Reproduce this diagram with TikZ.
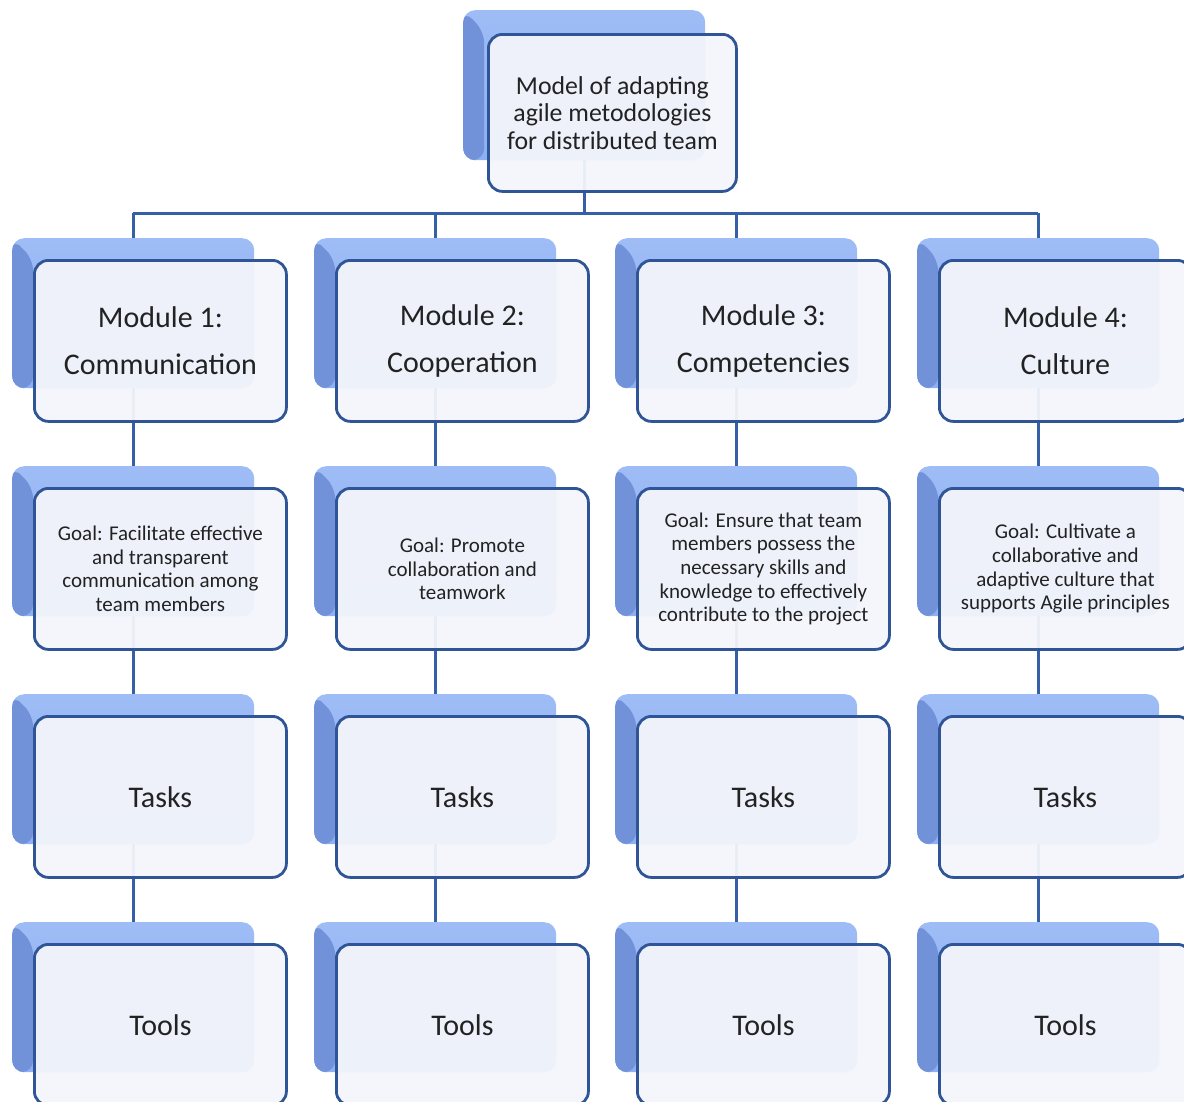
\documentclass[tikz,border=0pt]{standalone}
\usepackage{fontspec}
\setmainfont{Carlito}
\usetikzlibrary{calc}
\pgfdeclarelayer{bg}
\pgfsetlayers{bg,main}

\definecolor{linkblue}{HTML}{3560A8}
\definecolor{edgeblue}{HTML}{2F5597}
\definecolor{facefill}{HTML}{F3F5FB}
\definecolor{backlight}{HTML}{8DB0F3}
\definecolor{backdark}{HTML}{7191D9}
\definecolor{inktext}{HTML}{222222}

\tikzset{
  backbox/.style={draw=none, rounded corners=12pt, anchor=north west,
    minimum width=242pt, minimum height=150pt, inner sep=0pt,
    top color=backlight!85!white, bottom color=backlight,
    path picture={
      \fill[backdark]
        (path picture bounding box.north west)
        -- ([xshift=21pt,yshift=-21pt]path picture bounding box.north west)
        -- ([xshift=21pt]path picture bounding box.south west)
        -- (path picture bounding box.south west) -- cycle;
    }},
  frontbox/.style={draw=edgeblue, line width=2.8pt, fill=facefill,
    fill opacity=0.95, text opacity=1, rounded corners=14pt,
    anchor=north west, minimum width=252pt, minimum height=161pt,
    inner sep=0pt, align=center, text=inktext},
  bigtext/.style={font=\fontsize{30}{47}\selectfont},
  goaltext/.style={font=\fontsize{21}{23.6}\selectfont},
  toptext/.style={font=\fontsize{25.8}{27.5}\selectfont},
  link/.style={draw=linkblue, line width=3pt},
}

% one box of the chart: back slab plus the framed front card
\newcommand\chartcard[5]{%
  \node[backbox] (#1-b) at (#2-21,#3-21) {};
  \node[frontbox,#4] (#1) at (#2,#3) {#5};
}

\begin{document}
\begin{tikzpicture}[x=1pt,y=-1pt]
\useasboundingbox (0,0) rectangle (1184,1101);
\clip (0,0) rectangle (1184,1101);

% root
\node[backbox] (top-b) at (463,10) {};
\node[frontbox,toptext,minimum width=248pt,minimum height=157pt] (top) at (487,33)
  {Model of adapting\\agile metodologies\\for distributed team};

% modules
\chartcard{m1}{33}{259}{bigtext}{Module 1:\\Communication}
\chartcard{m2}{335}{259}{bigtext}{Module 2:\\Cooperation}
\chartcard{m3}{636}{259}{bigtext}{Module 3:\\Competencies}
\chartcard{m4}{938}{259}{bigtext}{Module 4:\\Culture}

% goals
\chartcard{g1}{33}{487}{goaltext}{Goal: Facilitate effective\\and transparent\\communication among\\team members}
\chartcard{g2}{335}{487}{goaltext}{Goal: Promote\\collaboration and\\teamwork}
\chartcard{g3}{636}{487}{goaltext}{Goal: Ensure that team\\members possess the\\necessary skills and\\knowledge to effectively\\contribute to the project}
\chartcard{g4}{938}{487}{goaltext}{Goal: Cultivate a\\collaborative and\\adaptive culture that\\supports Agile principles}

% tasks
\chartcard{t1}{33}{715}{bigtext}{Tasks}
\chartcard{t2}{335}{715}{bigtext}{Tasks}
\chartcard{t3}{636}{715}{bigtext}{Tasks}
\chartcard{t4}{938}{715}{bigtext}{Tasks}

% tools
\chartcard{o1}{33}{943}{bigtext}{Tools}
\chartcard{o2}{335}{943}{bigtext}{Tools}
\chartcard{o3}{636}{943}{bigtext}{Tools}
\chartcard{o4}{938}{943}{bigtext}{Tools}

% connectors, kept behind the cards
\begin{pgfonlayer}{bg}
  \coordinate (bus) at (0,213);
  \draw[link] (top-b.center) -- (top-b.center |- bus);
  \draw[link] (m1-b.center |- bus) -- (m4-b.center |- bus);
  \foreach \c in {1,2,3,4} {
    \draw[link] (m\c-b.center |- bus) -- (m\c-b.center);
    \draw[link] (m\c-b.center) -- (g\c-b.center);
    \draw[link] (g\c-b.center) -- (t\c-b.center);
    \draw[link] (t\c-b.center) -- (o\c-b.center);
  }
\end{pgfonlayer}
\end{tikzpicture}
\end{document}
